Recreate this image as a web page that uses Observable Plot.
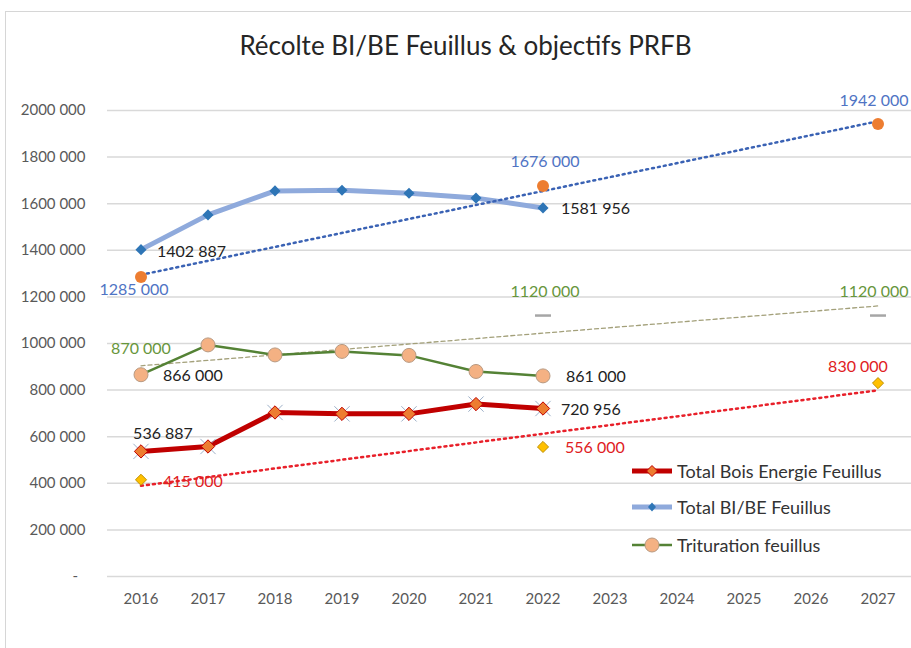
<!DOCTYPE html>
<html>
<head>
<meta charset="utf-8">
<script src="https://cdn.jsdelivr.net/npm/d3@7"></script>
<script src="https://cdn.jsdelivr.net/npm/@observablehq/plot@0.6"></script>
<style>
  html, body { margin: 0; padding: 0; background: #fff; }
  #wrap { position: relative; width: 911px; height: 648px; overflow: hidden; font-family: Lato, "Open Sans", sans-serif; }
  #frame { position: absolute; left: 5px; top: 11px; width: 920px; height: 660px; border: 1.5px solid #d6d6d6; box-sizing: border-box; }
  #title { position: relative; height: 80px; box-sizing: border-box; padding-top: 10px; padding-left: 20px; display: flex; align-items: center; justify-content: center; font-size: 26px; color: #262626; }
  #chart { position: relative; }
  .leg { position: absolute; left: 632px; display: flex; align-items: center; font-size: 18px; color: #333; height: 22px; }
  .leg svg { margin-right: 5px; }
</style>
</head>
<body>
<div id="wrap">
  <div id="frame"></div>
  <div id="title">Récolte BI/BE Feuillus &amp; objectifs PRFB</div>
  <div id="chart"></div>
  <div class="leg" style="top:460px">
    <svg width="40" height="20"><line x1="0" y1="10" x2="40" y2="10" stroke="#C00000" stroke-width="5"/><path d="M20,4.5 L25.5,10 L20,15.5 L14.5,10Z" fill="#ED7D31" stroke="#C00000" stroke-width="1"/></svg>
    <span>Total Bois Energie Feuillus</span>
  </div>
  <div class="leg" style="top:496px">
    <svg width="40" height="20"><line x1="0" y1="10" x2="40" y2="10" stroke="#8FAADC" stroke-width="5"/><path d="M20,5.5 L24,10 L20,14.5 L16,10Z" fill="#2E75B6"/></svg>
    <span>Total BI/BE Feuillus</span>
  </div>
  <div class="leg" style="top:534px">
    <svg width="40" height="20"><line x1="0" y1="10" x2="40" y2="10" stroke="#548235" stroke-width="2.5"/><circle cx="20" cy="10" r="7" fill="#F4B183" stroke="#B89A82" stroke-width="1"/></svg>
    <span>Trituration feuillus</span>
  </div>
</div>
<script>
// ---- Data ----
const years = [2016, 2017, 2018, 2019, 2020, 2021, 2022];
const totalBIBE = [1402887, 1552000, 1655000, 1658000, 1645000, 1624000, 1581956];
const trituration = [866000, 994000, 951000, 966000, 949000, 880000, 861000];
const boisEnergie = [536887, 558000, 704000, 698000, 698000, 740000, 720956];

const objYears = [2016, 2022, 2027];
const objBIBE = [1285000, 1676000, 1942000];
const objTrituration = [870000, 1120000, 1120000];
const objBoisEnergie = [415000, 556000, 830000];

const xTicks = [2016, 2017, 2018, 2019, 2020, 2021, 2022, 2023, 2024, 2025, 2026, 2027];
const yTicks = [0, 200000, 400000, 600000, 800000, 1000000, 1200000, 1400000, 1600000, 1800000, 2000000];

// ---- Build tables ----
const series = (xs, vals) => xs.map((year, i) => ({year, value: vals[i]}));
const bibe = series(years, totalBIBE);
const trit = series(years, trituration);
const be = series(years, boisEnergie);
const oBibe = series(objYears, objBIBE);
const oTrit = series(objYears, objTrituration);
const oBe = series(objYears, objBoisEnergie);

const fmt = v => v === 0 ? "-\u2002" : `${Math.floor(v / 1000)} ${String(v % 1000).padStart(3, "0")}`;

const dash = { draw(ctx, size) { const w = Math.sqrt(size) * 0.75; ctx.moveTo(-w, 0); ctx.lineTo(w, 0); } };

const blueLbl = "#4F74C4", greenLbl = "#67963C", redLbl = "#E0201E", darkLbl = "#222";
const lbl = (d, opts) => Plot.text(d, {x: "year", y: "value", text: x => fmt(x.value), fontSize: 16, ...opts});

const chart = Plot.plot({
  width: 911,
  height: 568,
  marginLeft: 107,
  marginRight: 0,
  marginTop: 30,
  marginBottom: 72,
  style: {fontFamily: "Lato, 'Open Sans', sans-serif", fontSize: "15px", color: "#595959", background: "transparent"},
  x: {type: "linear", domain: [2015.5, 2027.5], ticks: xTicks, tickFormat: "d", tickSize: 0, tickPadding: 17, label: null},
  y: {domain: [0, 2000000], ticks: yTicks, tickFormat: fmt, tickSize: 0, tickPadding: 22, label: null},
  marks: [
    Plot.gridY(yTicks, {stroke: "#D9D9D9", strokeOpacity: 1, strokeWidth: 1.5}),
    // trendline of trituration objectives
    Plot.linearRegressionY(oTrit, {x: "year", y: "value", ci: 0, stroke: "#A3A07A", strokeWidth: 1.3, strokeDasharray: "4,3"}),
    // objective markers for trituration (grey dashes)
    Plot.dot(oTrit.slice(1), {x: "year", y: "value", symbol: dash, r: 6, stroke: "#A6A6A6", strokeWidth: 2.5}),
    // actual lines
    Plot.line(bibe, {x: "year", y: "value", stroke: "#8FAADC", strokeWidth: 5, strokeLinejoin: "round"}),
    Plot.dot(bibe, {x: "year", y: "value", symbol: "diamond2", r: 5, fill: "#2E75B6", stroke: "none"}),
    Plot.line(trit, {x: "year", y: "value", stroke: "#548235", strokeWidth: 2.5}),
    Plot.dot(trit, {x: "year", y: "value", r: 7, fill: "#F4B183", stroke: "#B89A82", strokeWidth: 1}),
    Plot.line(be, {x: "year", y: "value", stroke: "#C00000", strokeWidth: 5, strokeLinejoin: "round"}),
    Plot.dot(be, {x: "year", y: "value", symbol: "times", r: 7, stroke: "#9DB0C8", strokeWidth: 1}),
    Plot.dot(be, {x: "year", y: "value", symbol: "diamond2", r: 6, fill: "#ED7D31", stroke: "#C00000", strokeWidth: 1}),
    Plot.linearRegressionY(oBibe, {x: "year", y: "value", ci: 0, stroke: "#3A62B4", strokeWidth: 2.5, strokeDasharray: "2,4"}),
    Plot.linearRegressionY(oBe, {x: "year", y: "value", ci: 0, stroke: "#E8202A", strokeWidth: 2.5, strokeDasharray: "2,4"}),
    // objective markers
    Plot.dot(oBibe, {x: "year", y: "value", r: 6, fill: "#ED7D31"}),
    Plot.dot(oBe, {x: "year", y: "value", symbol: "diamond2", r: 5, fill: "#FFC000", stroke: "#BF9000", strokeWidth: 1}),
    // labels: actuals
    lbl([bibe[0]], {textAnchor: "start", dx: 16, dy: 2, fill: darkLbl}),
    lbl([bibe[bibe.length - 1]], {textAnchor: "start", dx: 18, dy: 1, fill: darkLbl}),
    lbl([trit[0]], {textAnchor: "start", dx: 22, dy: 1, fill: darkLbl}),
    lbl([trit[trit.length - 1]], {textAnchor: "start", dx: 23, dy: 1, fill: darkLbl}),
    lbl([be[0]], {textAnchor: "middle", dx: 22, dy: -18, fill: darkLbl}),
    lbl([be[be.length - 1]], {textAnchor: "start", dx: 18, dy: 1, fill: darkLbl}),
    // labels: objectives
    lbl([oBibe[0]], {textAnchor: "middle", dx: -7, dy: 13, fill: blueLbl}),
    lbl([oBibe[1]], {textAnchor: "middle", dx: 2, dy: -24, fill: blueLbl}),
    lbl([oBibe[2]], {textAnchor: "middle", dx: -4, dy: -23, fill: blueLbl}),
    lbl([oTrit[0]], {textAnchor: "middle", dx: 0, dy: -25, fill: greenLbl}),
    lbl(oTrit.slice(1, 2), {textAnchor: "middle", dx: 2, dy: -24, fill: greenLbl}),
    lbl(oTrit.slice(2), {textAnchor: "middle", dx: -4, dy: -24, fill: greenLbl}),
    lbl([oBe[0]], {textAnchor: "start", dx: 22, dy: 2, fill: redLbl}),
    lbl([oBe[1]], {textAnchor: "start", dx: 22, dy: 1, fill: redLbl}),
    lbl([oBe[2]], {textAnchor: "middle", dx: -20, dy: -16, fill: redLbl})
  ]
});
document.getElementById("chart").appendChild(chart);
</script>
</body>
</html>
